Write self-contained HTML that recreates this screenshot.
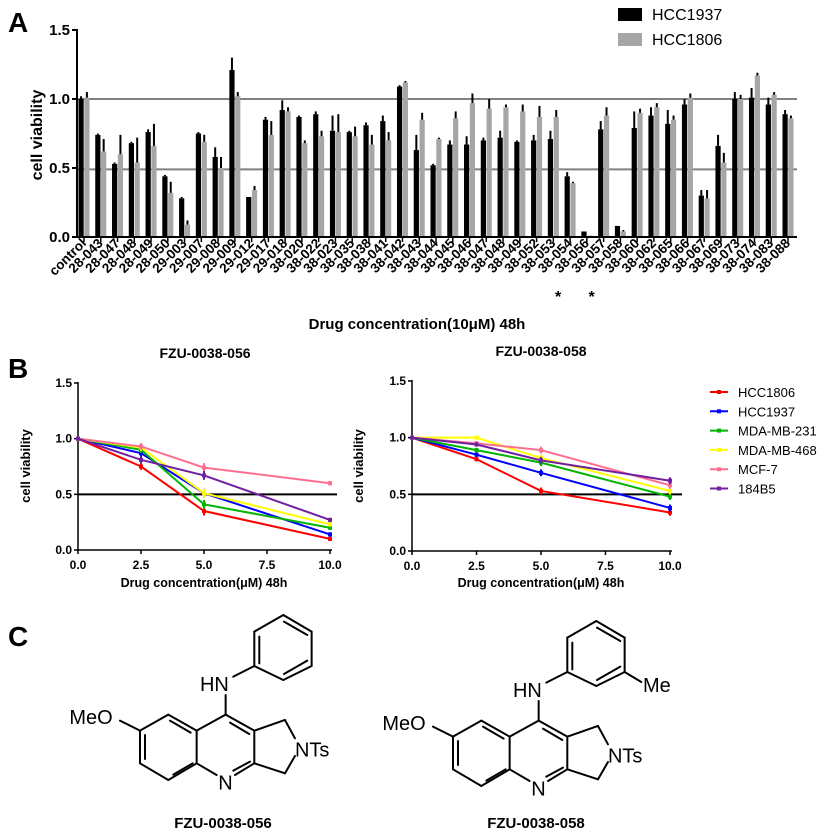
<!DOCTYPE html>
<html><head><meta charset="utf-8"><style>
html,body{margin:0;padding:0;background:#fff}
svg{display:block;font-family:"Liberation Sans",Arial,sans-serif}
</style></head><body>
<svg id="fig" width="832" height="838" viewBox="0 0 832 838" xmlns="http://www.w3.org/2000/svg">
<g id="panelA"></g>
<g id="panelB"></g>
<g id="panelC"></g>
</svg>
<script>
// ---------- Panel A data ----------
const catsA = ["control","28-043","28-047","28-048","28-049","28-050","29-003","29-007","29-008","29-009","29-012","29-017","29-018","38-020","38-022","38-023","38-035","38-038","38-041","38-042","38-043","38-044","38-045","38-046","38-047","38-048","38-049","38-052","38-053","38-054","38-056","38-057","38-058","38-060","38-062","38-065","38-066","38-067","38-069","38-073","38-074","38-083","38-088"];
const hcc1937 = [1.00,0.74,0.53,0.68,0.76,0.44,0.28,0.75,0.58,1.21,0.29,0.85,0.92,0.87,0.89,0.77,0.76,0.81,0.84,1.09,0.63,0.52,0.67,0.67,0.70,0.72,0.69,0.70,0.71,0.44,0.04,0.78,0.08,0.79,0.88,0.82,0.96,0.30,0.66,1.00,1.01,0.96,0.89];
const hcc1806 = [1.01,0.62,0.60,0.54,0.66,0.32,0.09,0.69,0.50,1.02,0.34,0.74,0.91,0.68,0.73,0.76,0.73,0.67,0.70,1.12,0.85,0.71,0.86,0.97,0.93,0.94,0.91,0.87,0.87,0.39,0.01,0.88,0.04,0.90,0.94,0.85,1.01,0.28,0.54,1.00,1.17,1.03,0.86];
const err1937 = [0.02,0.01,0.01,0.01,0.02,0.01,0.01,0.01,0.07,0.09,0.00,0.02,0.07,0.01,0.02,0.11,0.01,0.02,0.04,0.01,0.11,0.01,0.03,0.06,0.02,0.05,0.01,0.04,0.06,0.03,0.00,0.06,0.00,0.12,0.06,0.10,0.04,0.04,0.08,0.05,0.07,0.05,0.03];
const err1806 = [0.04,0.09,0.14,0.18,0.16,0.08,0.03,0.05,0.08,0.03,0.03,0.10,0.03,0.02,0.04,0.13,0.07,0.07,0.06,0.01,0.05,0.01,0.05,0.07,0.07,0.02,0.05,0.08,0.05,0.01,0.00,0.06,0.01,0.03,0.03,0.03,0.03,0.06,0.07,0.03,0.02,0.02,0.02];
const refLinesA = [1.0,0.49];
const yTicksA = [0,0.5,1.0,1.5];
const starredA = ["38-054","38-057"];

// ---------- Panel B data ----------
const doses = [0,2.5,5,10];
const xTicksB = [0,2.5,5,7.5,10];
const yTicksB = [0,0.5,1.0,1.5];
const seriesNames = ["HCC1806","HCC1937","MDA-MB-231","MDA-MB-468","MCF-7","184B5"];
const seriesColors = ["#ff0000","#0000ff","#00b400","#ffff00","#ff6f8f","#7020a0"];
const left_HCC1806 = [1,0.75,0.35,0.10];
const left_HCC1937 = [1,0.87,0.51,0.14];
const left_MDA231 = [1,0.90,0.41,0.20];
const left_MDA468 = [1,0.92,0.51,0.23];
const left_MCF7 = [1,0.93,0.74,0.60];
const left_184B5 = [1,0.81,0.67,0.27];
const right_HCC1806 = [1,0.81,0.53,0.34];
const right_HCC1937 = [1,0.85,0.69,0.38];
const right_MDA231 = [1,0.89,0.78,0.48];
const right_MDA468 = [1,1.00,0.82,0.53];
const right_MCF7 = [1,0.95,0.89,0.58];
const right_184B5 = [1,0.94,0.80,0.62];
const leftErr = [0,0.03,0.04,0.02];
const rightErr = [0,0.02,0.03,0.03];

const NS="http://www.w3.org/2000/svg";
function mk(tag, attrs, parent, text){
  const e=document.createElementNS(NS,tag);
  for(const k in attrs) e.setAttribute(k,attrs[k]);
  if(text!==undefined) e.textContent=text;
  parent.appendChild(e); return e;
}

// ---------- Panel A ----------
(function(){
  const g=document.getElementById('panelA');
  const x0=84, step=(788-84)/(catsA.length-1);
  const yA=v=>237-v*138;
  const xA=i=>x0+i*step;
  let t=mk('text',{x:8,y:32,'font-size':28,'font-weight':'bold'},g,'A');
  
  
  refLinesA.forEach(v=>{
    const l=mk('line',{x1:77,x2:797,y1:yA(v),y2:yA(v),stroke:'#808080','stroke-width':2},g);
    
    
  });
  catsA.forEach((c,i)=>{
    const xc=xA(i);
    [[hcc1937,err1937,'#000',xc-5.5],[hcc1806,err1806,'#a6a6a6',xc+0.3]].forEach(([vals,errs,col,bx],k)=>{
      const v=vals[i];
      const r=mk('rect',{x:bx,y:yA(v),width:5.2,height:Math.max(0,237-yA(v)),fill:col},g);
      
      
      if(errs[i]>0){
        const ex=bx+2.6;
        const l=mk('line',{x1:ex,x2:ex,y1:yA(v),y2:yA(v+errs[i]),stroke:'#000','stroke-width':2},g);
        
        
      }
    });
    const tk=mk('line',{x1:xc,x2:xc,y1:237,y2:242,stroke:'#000','stroke-width':1.5},g);
    
    
    const lb=mk('text',{x:xc+3,y:244,'font-size':13.5,'font-weight':'bold','text-anchor':'end',transform:`rotate(-45 ${xc+3} 244)`},g,c);
    
    
    if(starredA.includes(c)){
      const s=mk('text',{x:xc-12,y:302,'font-size':16,'font-weight':'bold','text-anchor':'middle'},g,'*');
      
      
    }
  });
  let ax=mk('line',{x1:77,x2:77,y1:29,y2:238,stroke:'#000','stroke-width':2},g);
  
  
  ax=mk('line',{x1:76,x2:797,y1:237,y2:237,stroke:'#000','stroke-width':2},g);
  
  
  yTicksA.forEach(v=>{
    const l=mk('line',{x1:72,x2:77,y1:yA(v),y2:yA(v),stroke:'#000','stroke-width':2},g);
    
    
    const tt=mk('text',{x:70,y:yA(v)+5,'font-size':15,'font-weight':'bold','text-anchor':'end'},g,v.toFixed(1));
    
    
  });
  t=mk('text',{x:0,y:0,'font-size':16,'font-weight':'bold','text-anchor':'middle',transform:'translate(42 135) rotate(-90)'},g,'cell viability');
  
  
  t=mk('text',{x:417,y:329,'font-size':15,'font-weight':'bold','text-anchor':'middle','xml:space':'preserve'},g,'Drug concentration(10μM)  48h');
  
  
  [['HCC1937','#000',8],['HCC1806','#a6a6a6',33]].forEach(([n,c,y])=>{
    const r=mk('rect',{x:618,y:y,width:24,height:13,fill:c},g);
    
    
    const tt=mk('text',{x:652,y:y+12,'font-size':16},g,n);
    
    
  });
})();

// ---------- Panel B ----------
(function(){
  const g=document.getElementById('panelB');
  let t=mk('text',{x:8,y:378,'font-size':28,'font-weight':'bold'},g,'B');
  
  
  const panels=[
    {name:'fzu-0038-056',title:'FZU-0038-056',x0:78,x1:330,y0:550,y15:383,lineEnd:337,tx:205,ty:358,vtx:30,data:[left_HCC1806,left_HCC1937,left_MDA231,left_MDA468,left_MCF7,left_184B5],err:leftErr},
    {name:'fzu-0038-058',title:'FZU-0038-058',x0:412,x1:670,y0:551,y15:381,lineEnd:682,tx:541,ty:356,vtx:363,data:[right_HCC1806,right_HCC1937,right_MDA231,right_MDA468,right_MCF7,right_184B5],err:rightErr}
  ];
  panels.forEach(p=>{
    const sub=mk('g',{},g);
    
    
    const X=d=>p.x0+(p.x1-p.x0)*d/10;
    const Y=v=>p.y0-(p.y0-p.y15)*v/1.5;
    let tt=mk('text',{x:p.tx,y:p.ty,'font-size':14,'font-weight':'bold','text-anchor':'middle'},sub,p.title);
    
    
    let l=mk('line',{x1:p.x0,x2:p.x0,y1:p.y15-1,y2:p.y0+1,stroke:'#000','stroke-width':1.5},sub);
    
    
    l=mk('line',{x1:p.x0,x2:p.x1+2,y1:p.y0,y2:p.y0,stroke:'#000','stroke-width':1.5},sub);
    
    
    yTicksB.forEach(v=>{
      const k=mk('line',{x1:p.x0-4,x2:p.x0,y1:Y(v),y2:Y(v),stroke:'#000','stroke-width':1.5},sub);
      
      
      const q=mk('text',{x:p.x0-6,y:Y(v)+4,'font-size':12,'font-weight':'bold','text-anchor':'end'},sub,v.toFixed(1));
      
      
    });
    xTicksB.forEach(v=>{
      const k=mk('line',{x1:X(v),x2:X(v),y1:p.y0,y2:p.y0+4,stroke:'#000','stroke-width':1.5},sub);
      
      
      const q=mk('text',{x:X(v),y:p.y0+19,'font-size':12,'font-weight':'bold','text-anchor':'middle'},sub,v.toFixed(1));
      
      
    });
    tt=mk('text',{x:0,y:0,'font-size':13,'font-weight':'bold','text-anchor':'middle',transform:`translate(${p.vtx} 466) rotate(-90)`},sub,'cell viability');
    
    
    tt=mk('text',{x:(p.x0+p.x1)/2,y:587,'font-size':12.5,'font-weight':'bold','text-anchor':'middle'},sub,'Drug concentration(μM) 48h');
    
    
    l=mk('line',{x1:p.x0,x2:p.lineEnd,y1:Y(0.5),y2:Y(0.5),stroke:'#000','stroke-width':2},sub);
    
    
    p.data.forEach((vals,si)=>{
      const c=seriesColors[si];
      const pts=doses.map((d,i)=>X(d)+','+Y(vals[i])).join(' ');
      const pl=mk('polyline',{points:pts,fill:'none',stroke:c,'stroke-width':2},sub);
      
      
      doses.forEach((d,i)=>{
        const e=p.err[i];
        if(e>0){
          const eb=mk('line',{x1:X(d),x2:X(d),y1:Y(vals[i]-e),y2:Y(vals[i]+e),stroke:c,'stroke-width':2},sub);
          
          
        }
        const m=mk('rect',{x:X(d)-2,y:Y(vals[i])-2,width:4,height:4,fill:c},sub);
        
        
      });
    });
  });
  seriesNames.forEach((n,i)=>{
    const y=392+i*19.3;
    const l=mk('line',{x1:710,x2:728,y1:y,y2:y,stroke:seriesColors[i],'stroke-width':2},g);
    
    
    const m=mk('rect',{x:717,y:y-2,width:4,height:4,fill:seriesColors[i]},g);
    
    
    const tt=mk('text',{x:738,y:y+5,'font-size':13},g,n);
    
    
  });
})();

// ---------- Panel C ----------
(function(){
  const g=document.getElementById('panelC');
  let t=mk('text',{x:8,y:646,'font-size':28,'font-weight':'bold'},g,'C');
  
  
  function mol(dx,dy,name,meta){
    const m=mk('g',{transform:`translate(${dx} ${580+dy}) scale(0.3333)`},g);
    
    
    const S={stroke:'#000','stroke-width':6,fill:'none','stroke-linecap':'round'};
    const bonds=[
      [420,452,505,404],[505,404,590,452],[590,452,590,550],[590,550,505,600],[505,600,420,550],[420,550,420,452],
      [590,452,677,404],[677,404,763,452],[763,452,763,550],[763,550,705,585],[650,585,590,550],
      [763,452,855,420],[855,420,885,475],[885,528,855,580],[855,580,763,550],
      [677,404,677,345],[700,290,763,258],
      [763,258,763,155],[763,155,850,105],[850,105,935,155],[935,155,935,258],[935,258,850,300],[850,300,763,258],
      [360,422,420,452],
      [435,465,435,537],[510,422,572,458],[520,584,578,550],[690,428,748,462],[700,572,750,545],
      [778,170,778,250],[852,125,922,165],[852,282,922,242]
    ];
    if(meta) bonds.push([935,258,985,288]);
    bonds.forEach(b=>mk('line',Object.assign({x1:b[0],y1:b[1],x2:b[2],y2:b[3]},S),m));
    const F={'font-size':60,'font-family':'"Liberation Sans",Arial,sans-serif'};
    mk('text',Object.assign({x:600,y:333},F),m,'HN');
    mk('text',Object.assign({x:208,y:432},F),m,'MeO');
    mk('text',Object.assign({x:885,y:530},F),m,'NTs');
    mk('text',Object.assign({x:655,y:628},F),m,'N');
    if(meta) mk('text',Object.assign({x:990,y:318},F),m,'Me');
    const lbl=mk('text',{x:dx+223,y:828,'font-size':15,'font-weight':'bold','text-anchor':'middle'},g,name);
    
    
  }
  mol(0,0,'FZU-0038-056',false);
  mol(313,6,'FZU-0038-058',true);
})();
</script>
</body></html>
